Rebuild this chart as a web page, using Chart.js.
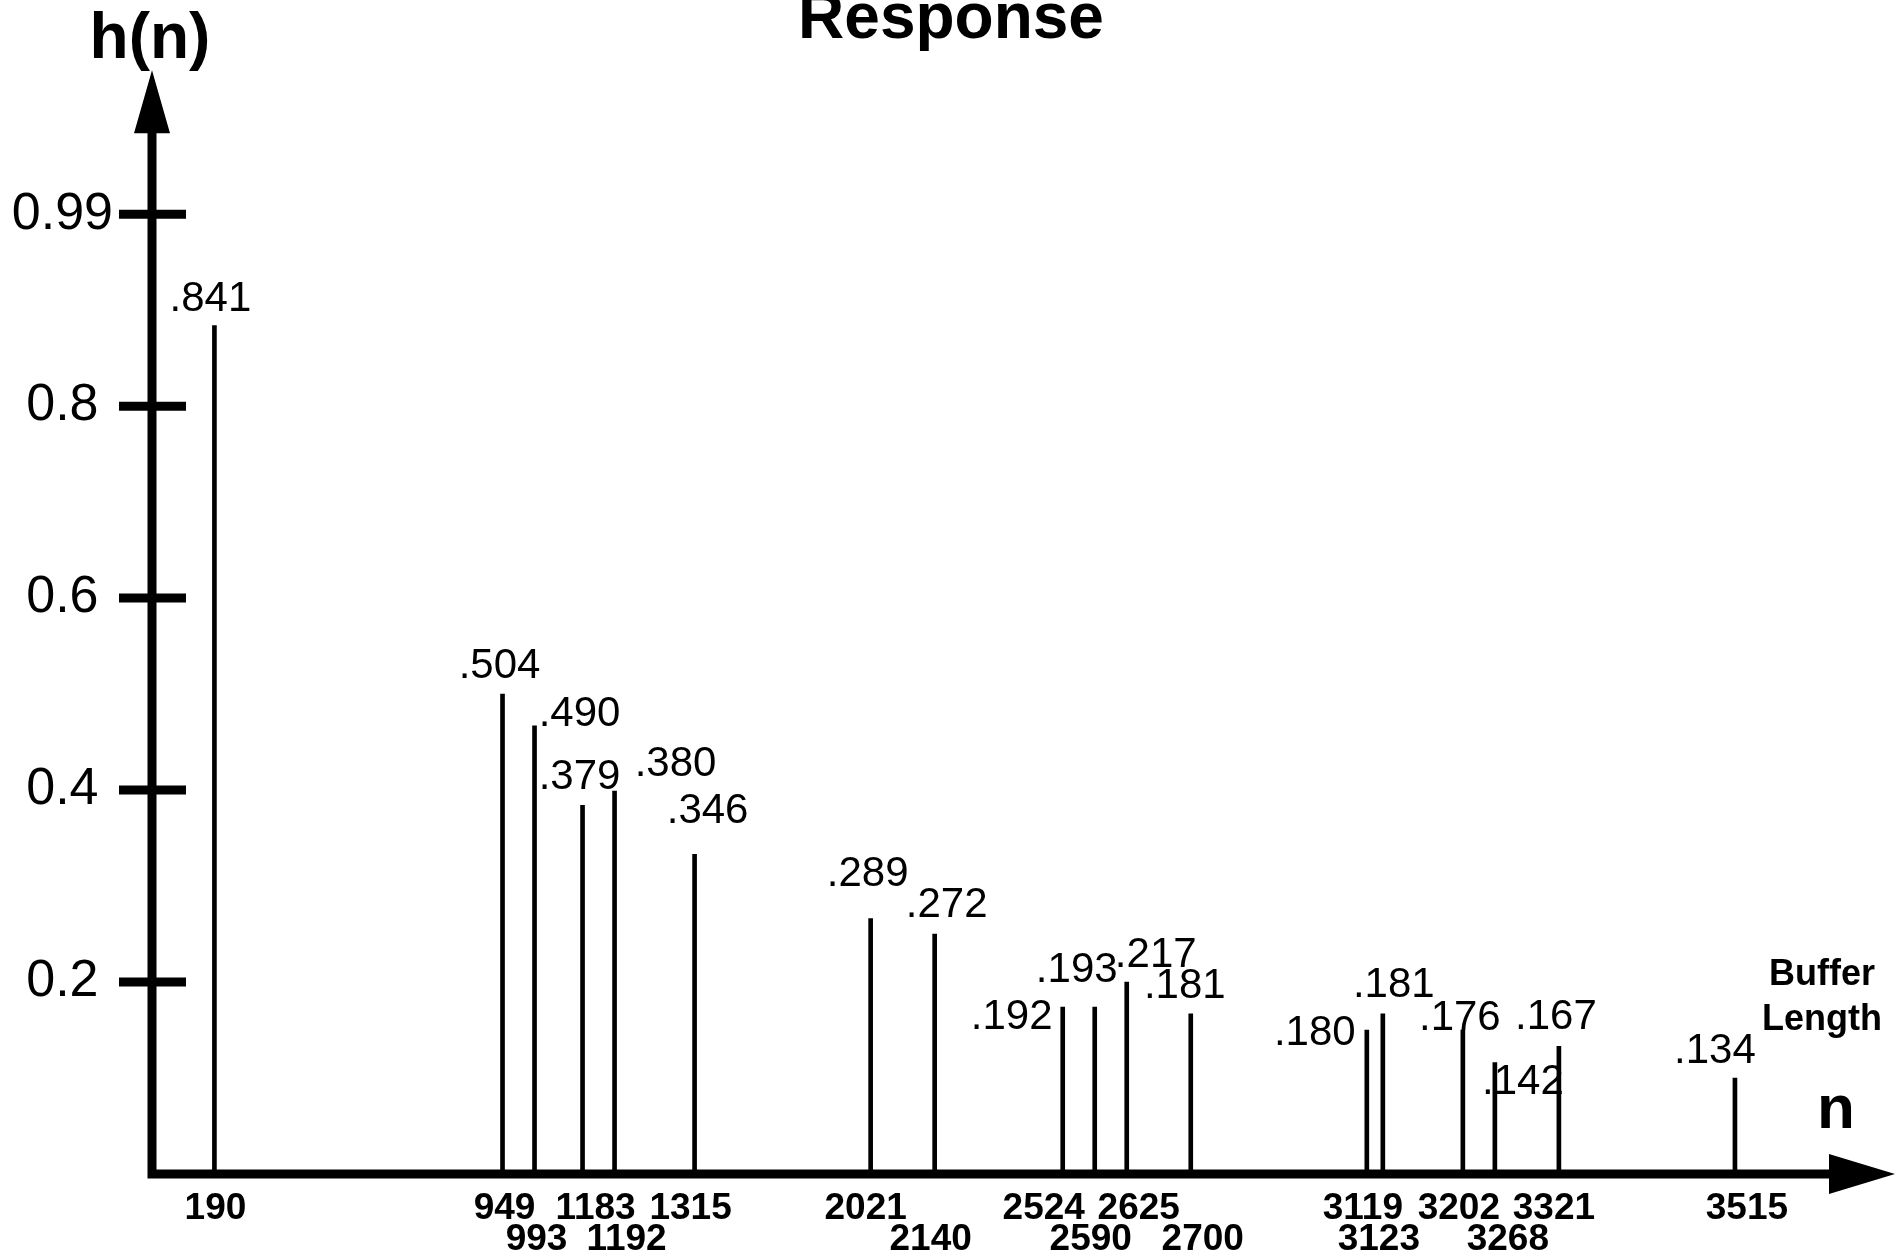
<!DOCTYPE html>
<html>
<head>
<meta charset="utf-8">
<script src="https://cdn.jsdelivr.net/npm/chart.js@4.4.1/dist/chart.umd.min.js"></script>
<style>
  html, body { margin: 0; padding: 0; background: #fff; }
  #wrap { width: 1902px; height: 1255px; position: relative; }
</style>
</head>
<body>
<div id="wrap"><canvas id="stems"></canvas></div>
<script>
// buffer lengths, used as the x tick labels
const lengths = ['190', '949', '993', '1183', '1192', '1315', '2021', '2140', '2524',
                 '2590', '2625', '2700', '3119', '3123', '3202', '3268', '3321', '3515'];
// slot of each stem on the n axis (the drawing is schematic, not to scale)
const slot = [0, 18, 20, 23, 25, 30, 41, 45, 53, 55, 57, 61, 72, 73, 78, 80, 84, 95];
// drawn height of each stem, read against the y ticks
const heights = [0.884, 0.500, 0.467, 0.384, 0.399, 0.333, 0.266, 0.250, 0.174,
                 0.174, 0.200, 0.167, 0.150, 0.167, 0.150, 0.116, 0.133, 0.100];
// value printed next to each stem
const valueText = ['.841', '.504', '.490', '.379', '.380', '.346', '.289', '.272', '.192',
                   '.193', '.217', '.181', '.180', '.181', '.176', '.142', '.167', '.134'];
// tick label row (0 = upper row, 1 = lower row)
const labelRow = [0, 0, 1, 0, 1, 0, 0, 1, 0, 1, 0, 1, 0, 1, 0, 1, 0, 0];
const yTickValues = [0.2, 0.4, 0.6, 0.8, 1.0];
const yTickLabels = ['0.2', '0.4', '0.6', '0.8', '0.99'];

// hand placement of the value labels, px from the top of each stem [dx, dy]
const labelNudge = [[-4, -15], [-3, -16], [45, 0], [-3, -16], [61, -15], [13, -31],
                    [-3, -33], [12, -17], [-51, 22], [-18, -25], [29, -15], [-6, -16],
                    [-52, 15], [11, -17], [-3, 0], [28, 31], [-3, -17], [-20, -15]];
// hand placement of the n labels, px from the stem
const tickNudge = [1, 2, 2, 13, 12, -4, -5, -4, -19, -4, 12, 12, -4, -4, -4, 13, -5, 12];

const FONT = "'Liberation Sans', Arial, Helvetica, sans-serif";

const decor = {
  id: 'decor',
  afterDatasetsDraw(chart) {
    const { ctx, chartArea: a, scales: { x, y } } = chart;
    ctx.save();
    ctx.fillStyle = '#000';
    ctx.strokeStyle = '#000';

    // axis lines
    ctx.lineWidth = 9;
    ctx.beginPath();
    ctx.moveTo(a.left, a.bottom + 4.5);
    ctx.lineTo(a.left, a.top + 50);
    ctx.moveTo(a.left - 4.5, a.bottom);
    ctx.lineTo(a.right - 50, a.bottom);
    ctx.stroke();

    // arrow heads
    ctx.beginPath();
    ctx.moveTo(a.left, a.top);
    ctx.lineTo(a.left - 18, a.top + 63);
    ctx.lineTo(a.left + 18, a.top + 63);
    ctx.closePath();
    ctx.moveTo(a.right, a.bottom);
    ctx.lineTo(a.right - 66, a.bottom - 20);
    ctx.lineTo(a.right - 66, a.bottom + 20);
    ctx.closePath();
    ctx.fill();

    // y tick marks cross the axis
    y.ticks.forEach(t => {
      const py = y.getPixelForValue(t.value);
      ctx.beginPath();
      ctx.moveTo(a.left - 33, py);
      ctx.lineTo(a.left + 34, py);
      ctx.stroke();
    });

    // n labels in two rows under the axis
    ctx.font = 'bold 37px ' + FONT;
    ctx.textAlign = 'center';
    ctx.textBaseline = 'alphabetic';
    lengths.forEach((s, i) => {
      ctx.fillText(s, x.getPixelForValue(slot[i]) + tickNudge[i], a.bottom + 45 + labelRow[i] * 31);
    });

    // stem values
    const meta = chart.getDatasetMeta(0);
    ctx.font = '42px ' + FONT;
    meta.data.forEach((bar, i) => {
      const [dx, dy] = labelNudge[i];
      ctx.fillText(valueText[i], bar.x + dx, bar.y + dy);
    });

    // titles
    ctx.font = 'bold 64px ' + FONT;
    ctx.fillText('Response', 951, 38);
    ctx.fillText('h(n)', 150, 58);
    ctx.font = 'bold 36px ' + FONT;
    ctx.fillText('Buffer', 1822, 985);
    ctx.fillText('Length', 1822, 1030);
    ctx.font = 'bold 62px ' + FONT;
    ctx.fillText('n', 1836, 1128);
    ctx.restore();
  }
};

new Chart(document.getElementById('stems'), {
  type: 'bar',
  data: {
    datasets: [{
      label: 'h(n)',
      data: slot.map((s, i) => ({ x: s, y: heights[i] })),
      backgroundColor: '#000',
      borderWidth: 0,
      barThickness: 4
    }]
  },
  options: {
    responsive: true,
    maintainAspectRatio: false,
    animation: false,
    layout: { padding: { top: 70, right: 7, left: 0, bottom: 0 } },
    plugins: {
      legend: { display: false },
      tooltip: { enabled: false }
    },
    scales: {
      x: {
        type: 'linear',
        min: -3.9,
        max: 105,
        offset: false,
        afterBuildTicks: s => { s.ticks = slot.map(v => ({ value: v })); },
        afterFit: s => { s.height = 81; },
        grid: { display: false, drawTicks: false },
        border: { display: false },
        ticks: { display: false }
      },
      y: {
        min: 0,
        max: 1.15,
        afterBuildTicks: s => { s.ticks = yTickValues.map(v => ({ value: v })); },
        afterFit: s => { s.width = 152; },
        grid: { display: false, drawTicks: false },
        border: { display: false },
        ticks: {
          crossAlign: 'center',
          padding: 39,
          color: '#000',
          font: { family: FONT, size: 52 },
          callback: v => yTickLabels[yTickValues.indexOf(v)]
        }
      }
    }
  },
  plugins: [decor]
});
</script>
</body>
</html>
